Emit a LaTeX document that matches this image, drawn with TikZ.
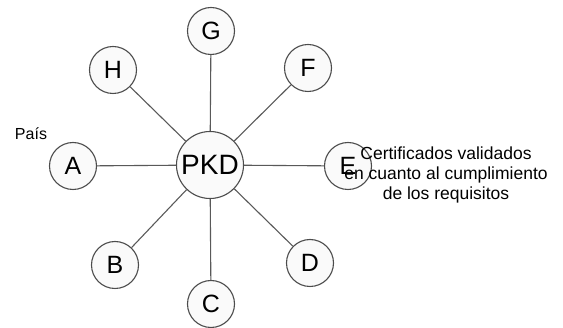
\documentclass[tikz,border=0pt]{standalone}
\usepackage{fontspec}
\setmainfont{Liberation Sans}
\begin{document}
\begin{tikzpicture}[x=1pt,y=-1pt,
  leaf/.style={circle,draw=black!70,line width=1.1pt,fill=black!2,minimum size=47pt,inner sep=0pt,font=\fontsize{25}{27}\selectfont},
  hub/.style={circle,draw=black!70,line width=1.1pt,fill=black!2,minimum size=67pt,inner sep=0pt,font=\fontsize{28}{30}\selectfont},
  link/.style={draw=black!65,line width=1.1pt},
  lbl/.style={font=\fontsize{16}{18}\selectfont,inner sep=0pt}]
\useasboundingbox (0,0) rectangle (563,328);
\node[hub] (pkd) at (210,165) {PKD};
\node[leaf] (g) at (211,31) {G};
\node[leaf] (h) at (113,70) {H};
\node[leaf] (a) at (73,166) {A};
\node[leaf] (f) at (308,68) {F};
\node[leaf] (e) at (348,166) {E};
\node[leaf] (d) at (310,263) {D};
\node[leaf] (c) at (211,304) {C};
\node[leaf] (b) at (115,265) {B};
\foreach \n in {g,h,a,f,e,d,c,b} \draw[link] (pkd) -- (\n);
\node[lbl] (pais) at (31,134) {País};
\node[lbl,align=center,font=\fontsize{17.5}{20}\selectfont] (cert) at (446,175) {Certificados validados\\en cuanto al cumplimiento\\de los requisitos};
\end{tikzpicture}
\end{document}
